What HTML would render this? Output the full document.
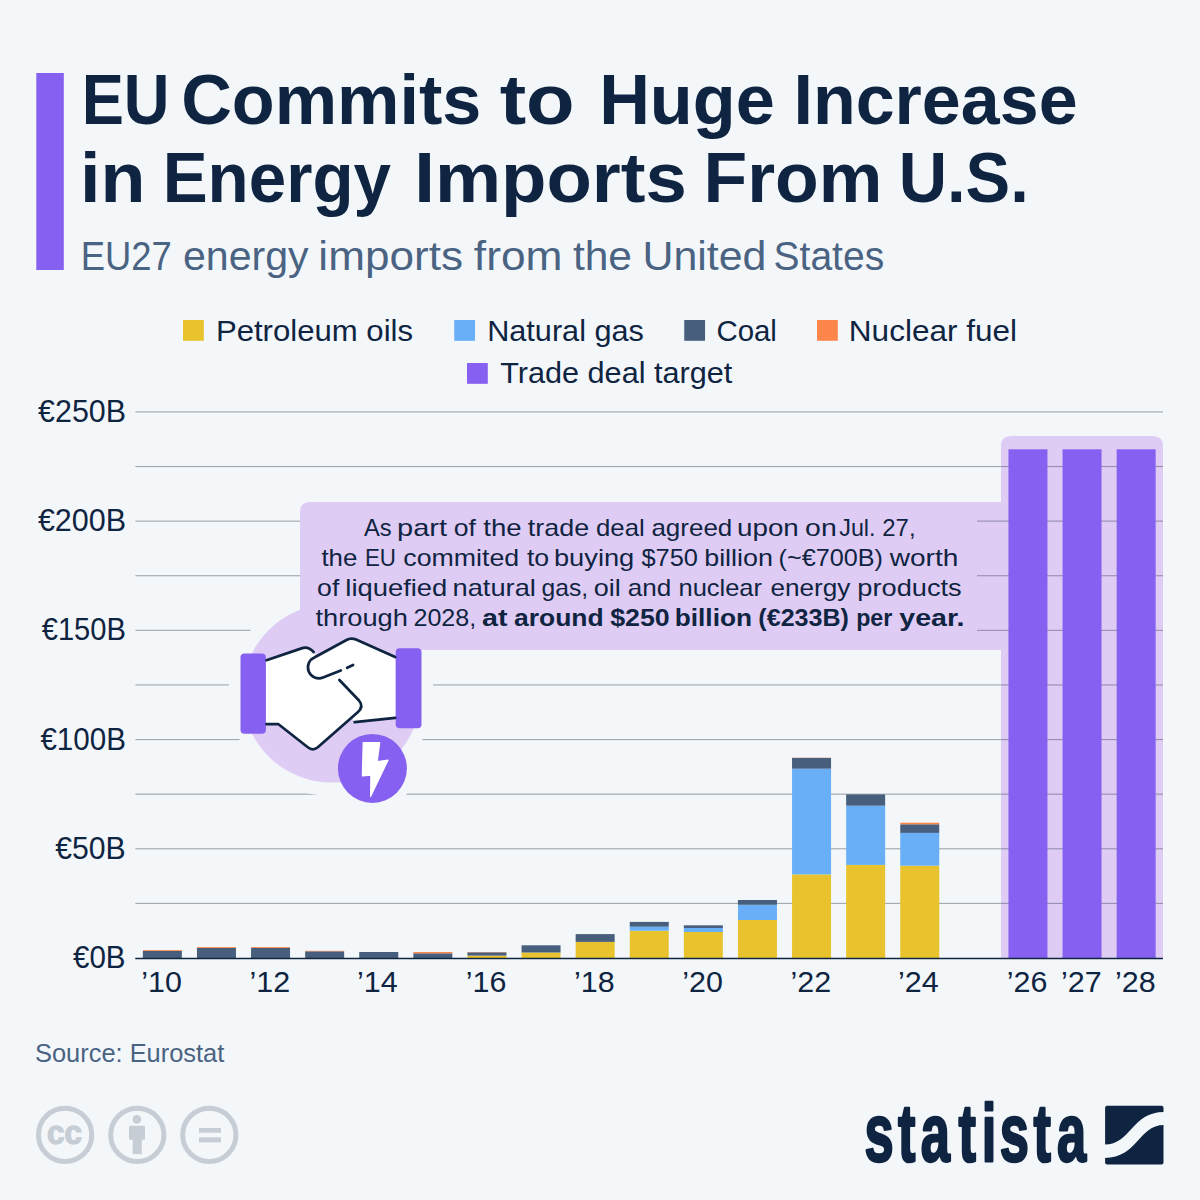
<!DOCTYPE html>
<html><head><meta charset="utf-8"><title>EU Commits to Huge Increase in Energy Imports From U.S.</title>
<style>html,body{margin:0;padding:0;background:#f3f7fa;overflow:hidden;width:1200px;height:1200px;}svg{display:block;}text{font-family:'Liberation Sans', Arial, sans-serif;}</style></head>
<body>
<svg width="1200" height="1200" viewBox="0 0 1200 1200">
<rect x="0" y="0" width="1200" height="1200" fill="#f3f7fa"/>
<rect x="36.3" y="73" width="27.5" height="197" fill="#8660f0"/>
<rect x="183" y="320" width="20.8" height="20.8" fill="#e9c32e"/>
<rect x="454.25" y="320" width="20.8" height="20.8" fill="#68aff7"/>
<rect x="684.25" y="320" width="20.8" height="20.8" fill="#475f7d"/>
<rect x="817" y="320" width="20.8" height="20.8" fill="#ff864b"/>
<rect x="467" y="363" width="20.8" height="20.8" fill="#8660f0"/>
<path d="M1001,958.5 V446 Q1001,436 1011,436 H1153 Q1163,436 1163,446 V958.5 Z" fill="#dfccf5"/>
<rect x="970" y="502" width="32" height="148" fill="#dfccf5"/>
<rect x="135.4" y="902.84" width="1027.6" height="1.1" fill="rgba(60,68,84,0.45)"/>
<rect x="135.4" y="848.23" width="1027.6" height="1.1" fill="rgba(60,68,84,0.45)"/>
<rect x="135.4" y="793.62" width="1027.6" height="1.1" fill="rgba(60,68,84,0.45)"/>
<rect x="135.4" y="739.01" width="1027.6" height="1.1" fill="rgba(60,68,84,0.45)"/>
<rect x="135.4" y="684.40" width="1027.6" height="1.1" fill="rgba(60,68,84,0.45)"/>
<rect x="135.4" y="629.79" width="1027.6" height="1.1" fill="rgba(60,68,84,0.45)"/>
<rect x="135.4" y="575.18" width="1027.6" height="1.1" fill="rgba(60,68,84,0.45)"/>
<rect x="135.4" y="520.57" width="1027.6" height="1.1" fill="rgba(60,68,84,0.45)"/>
<rect x="135.4" y="465.96" width="1027.6" height="1.1" fill="rgba(60,68,84,0.45)"/>
<rect x="135.4" y="411.35" width="1027.6" height="1.1" fill="rgba(60,68,84,0.45)"/>
<circle cx="331" cy="693.5" r="102.5" fill="#f3f7fa"/>
<circle cx="372.4" cy="768.4" r="43" fill="#f3f7fa"/>
<circle cx="331.7" cy="693.3" r="89.3" fill="#dfccf5"/>
<path d="M300,650 V512 Q300,502 310,502 H977 V650 Z" fill="#dfccf5"/>
<g id="handshake">
<path d="M265.9,660.1 L301.5,648.3 C305.5,647 310,648 313.6,652 L316.5,656.3 L346.5,640 Q351,637.5 356,639.6 L395.7,657 V717.9 L354.6,722.1 L352,718 L317.8,747.3 Q312.8,751.3 307.8,747.3 L278.5,724.2 H265.9 Z" fill="#ffffff"/>
<rect x="240.5" y="653.4" width="25.4" height="80.3" rx="4" fill="#8660f0"/>
<rect x="395.7" y="648.2" width="25.8" height="80" rx="4" fill="#8660f0"/>
<g fill="none" stroke="#0f2441" stroke-width="2.7" stroke-linecap="round" stroke-linejoin="round">
<path d="M266.5,660.2 L301.5,648.4 C305.5,647 310,648 313.6,652"/>
<path d="M266.5,724.2 H278.5 L307.8,747.3 Q312.8,751.3 317.8,747.3 L358,712 Q364,706.5 359,700.5 L339.4,680"/>
<path d="M395.2,657 L356,639.6 Q351,637.5 346.5,640 L314.8,657.2 A10,10 0 0 0 323,677.5 L340.8,670.4"/>
<path d="M347.2,667.8 L353.1,665"/>
<path d="M395.2,717.9 L354.6,722.1"/>
</g>
</g>
<circle cx="372.4" cy="768.4" r="34.5" fill="#8660f0"/>
<path d="M363.2,742.6 L379.7,742.6 L377.2,761.7 L388,760.2 L370.6,796.6 L370.9,775.2 L362.4,775.9 Z" fill="#ffffff" stroke="#ffffff" stroke-width="1.2" stroke-linejoin="round"/>

<rect x="142.85" y="951.00" width="39.0" height="7.30" fill="#475f7d"/>
<rect x="142.85" y="950.10" width="39.0" height="0.90" fill="#ff864b"/>
<rect x="196.95" y="947.90" width="39.0" height="10.40" fill="#475f7d"/>
<rect x="196.95" y="947.00" width="39.0" height="0.90" fill="#ff864b"/>
<rect x="251.05" y="947.90" width="39.0" height="10.40" fill="#475f7d"/>
<rect x="251.05" y="947.00" width="39.0" height="0.90" fill="#ff864b"/>
<rect x="305.15" y="951.30" width="39.0" height="7.00" fill="#475f7d"/>
<rect x="305.15" y="950.80" width="39.0" height="0.50" fill="#ff864b"/>
<rect x="359.25" y="952.00" width="39.0" height="6.30" fill="#475f7d"/>
<rect x="413.35" y="953.30" width="39.0" height="5.00" fill="#475f7d"/>
<rect x="413.35" y="952.00" width="39.0" height="1.30" fill="#ff864b"/>
<rect x="467.45" y="955.60" width="39.0" height="2.70" fill="#e9c32e"/>
<rect x="467.45" y="952.30" width="39.0" height="3.30" fill="#475f7d"/>
<rect x="467.45" y="952.00" width="39.0" height="0.30" fill="#ff864b"/>
<rect x="521.55" y="952.50" width="39.0" height="5.80" fill="#e9c32e"/>
<rect x="521.55" y="945.30" width="39.0" height="7.20" fill="#475f7d"/>
<rect x="575.65" y="941.90" width="39.0" height="16.40" fill="#e9c32e"/>
<rect x="575.65" y="934.10" width="39.0" height="7.80" fill="#475f7d"/>
<rect x="629.75" y="930.70" width="39.0" height="27.60" fill="#e9c32e"/>
<rect x="629.75" y="926.70" width="39.0" height="4.00" fill="#68aff7"/>
<rect x="629.75" y="921.90" width="39.0" height="4.80" fill="#475f7d"/>
<rect x="683.85" y="932.00" width="39.0" height="26.30" fill="#e9c32e"/>
<rect x="683.85" y="928.00" width="39.0" height="4.00" fill="#68aff7"/>
<rect x="683.85" y="925.30" width="39.0" height="2.70" fill="#475f7d"/>
<rect x="737.95" y="920.00" width="39.0" height="38.30" fill="#e9c32e"/>
<rect x="737.95" y="904.80" width="39.0" height="15.20" fill="#68aff7"/>
<rect x="737.95" y="900.00" width="39.0" height="4.80" fill="#475f7d"/>
<rect x="792.05" y="874.40" width="39.0" height="83.90" fill="#e9c32e"/>
<rect x="792.05" y="768.70" width="39.0" height="105.70" fill="#68aff7"/>
<rect x="792.05" y="757.90" width="39.0" height="10.80" fill="#475f7d"/>
<rect x="792.05" y="757.70" width="39.0" height="0.20" fill="#ff864b"/>
<rect x="846.15" y="864.90" width="39.0" height="93.40" fill="#e9c32e"/>
<rect x="846.15" y="805.70" width="39.0" height="59.20" fill="#68aff7"/>
<rect x="846.15" y="794.40" width="39.0" height="11.30" fill="#475f7d"/>
<rect x="900.25" y="865.70" width="39.0" height="92.60" fill="#e9c32e"/>
<rect x="900.25" y="832.90" width="39.0" height="32.80" fill="#68aff7"/>
<rect x="900.25" y="824.30" width="39.0" height="8.60" fill="#475f7d"/>
<rect x="900.25" y="822.70" width="39.0" height="1.60" fill="#ff864b"/>
<rect x="1008.45" y="449.3" width="39.0" height="509.00" fill="#8660f0"/>
<rect x="1062.55" y="449.3" width="39.0" height="509.00" fill="#8660f0"/>
<rect x="1116.65" y="449.3" width="39.0" height="509.00" fill="#8660f0"/>
<rect x="135.3" y="957.75" width="1027.7" height="1.5" fill="#0f2441"/>
<text y="123.80" font-size="69.5" font-weight="700" fill="#0f2441"><tspan x="81.70" textLength="87.84" lengthAdjust="spacingAndGlyphs">EU</tspan> <tspan x="181.17" textLength="300.20" lengthAdjust="spacingAndGlyphs">Commits</tspan> <tspan x="499.66" textLength="75.03" lengthAdjust="spacingAndGlyphs">to</tspan> <tspan x="599.15" textLength="175.63" lengthAdjust="spacingAndGlyphs">Huge</tspan> <tspan x="793.46" textLength="284.13" lengthAdjust="spacingAndGlyphs">Increase</tspan></text>
<text y="201.70" font-size="69.5" font-weight="700" fill="#0f2441"><tspan x="80.00" textLength="65.45" lengthAdjust="spacingAndGlyphs">in</tspan> <tspan x="162.65" textLength="228.35" lengthAdjust="spacingAndGlyphs">Energy</tspan> <tspan x="414.25" textLength="272.56" lengthAdjust="spacingAndGlyphs">Imports</tspan> <tspan x="703.61" textLength="178.78" lengthAdjust="spacingAndGlyphs">From</tspan> <tspan x="898.65" textLength="130.13" lengthAdjust="spacingAndGlyphs">U.S.</tspan></text>
<text y="270.00" font-size="40" font-weight="400" fill="#4b6382"><tspan x="80.77" textLength="91.11" lengthAdjust="spacingAndGlyphs">EU27</tspan> <tspan x="182.94" textLength="125.68" lengthAdjust="spacingAndGlyphs">energy</tspan> <tspan x="318.39" textLength="144.56" lengthAdjust="spacingAndGlyphs">imports</tspan> <tspan x="473.89" textLength="88.62" lengthAdjust="spacingAndGlyphs">from</tspan> <tspan x="572.94" textLength="59.07" lengthAdjust="spacingAndGlyphs">the</tspan> <tspan x="642.48" textLength="123.93" lengthAdjust="spacingAndGlyphs">United</tspan> <tspan x="773.55" textLength="110.62" lengthAdjust="spacingAndGlyphs">States</tspan></text>
<text x="215.90" y="340.75" font-size="29.6" font-weight="400" fill="#0f2441" textLength="197.14" lengthAdjust="spacingAndGlyphs">Petroleum oils</text>
<text x="487.18" y="340.75" font-size="29.6" font-weight="400" fill="#0f2441" textLength="156.71" lengthAdjust="spacingAndGlyphs">Natural gas</text>
<text x="716.41" y="340.75" font-size="29.6" font-weight="400" fill="#0f2441" textLength="60.45" lengthAdjust="spacingAndGlyphs">Coal</text>
<text x="848.87" y="340.75" font-size="29.6" font-weight="400" fill="#0f2441" textLength="168.18" lengthAdjust="spacingAndGlyphs">Nuclear fuel</text>
<text x="500.22" y="383.25" font-size="29.6" font-weight="400" fill="#0f2441" textLength="232.08" lengthAdjust="spacingAndGlyphs">Trade deal target</text>
<text y="535.60" font-size="24" font-weight="400" fill="#0f2441"><tspan x="364.10" textLength="27.60" lengthAdjust="spacingAndGlyphs">As</tspan> <tspan x="397.08" textLength="49.95" lengthAdjust="spacingAndGlyphs">part</tspan> <tspan x="453.69" textLength="22.23" lengthAdjust="spacingAndGlyphs">of</tspan> <tspan x="483.25" textLength="38.33" lengthAdjust="spacingAndGlyphs">the</tspan> <tspan x="527.80" textLength="61.29" lengthAdjust="spacingAndGlyphs">trade</tspan> <tspan x="596.03" textLength="48.75" lengthAdjust="spacingAndGlyphs">deal</tspan> <tspan x="651.42" textLength="80.86" lengthAdjust="spacingAndGlyphs">agreed</tspan> <tspan x="737.09" textLength="61.72" lengthAdjust="spacingAndGlyphs">upon</tspan> <tspan x="805.11" textLength="31.65" lengthAdjust="spacingAndGlyphs">on</tspan> <tspan x="839.28" textLength="36.26" lengthAdjust="spacingAndGlyphs">Jul.</tspan> <tspan x="882.30" textLength="33.26" lengthAdjust="spacingAndGlyphs">27,</tspan></text>
<text y="565.70" font-size="24" font-weight="400" fill="#0f2441"><tspan x="321.40" textLength="35.88" lengthAdjust="spacingAndGlyphs">the</tspan> <tspan x="364.94" textLength="31.01" lengthAdjust="spacingAndGlyphs">EU</tspan> <tspan x="403.29" textLength="115.96" lengthAdjust="spacingAndGlyphs">commited</tspan> <tspan x="526.90" textLength="22.23" lengthAdjust="spacingAndGlyphs">to</tspan> <tspan x="553.98" textLength="80.29" lengthAdjust="spacingAndGlyphs">buying</tspan> <tspan x="641.50" textLength="56.47" lengthAdjust="spacingAndGlyphs">$750</tspan> <tspan x="704.16" textLength="68.89" lengthAdjust="spacingAndGlyphs">billion</tspan> <tspan x="778.60" textLength="104.38" lengthAdjust="spacingAndGlyphs">(~€700B)</tspan> <tspan x="889.75" textLength="68.52" lengthAdjust="spacingAndGlyphs">worth</tspan></text>
<text y="595.70" font-size="24" font-weight="400" fill="#0f2441"><tspan x="317.14" textLength="22.18" lengthAdjust="spacingAndGlyphs">of</tspan> <tspan x="345.32" textLength="101.99" lengthAdjust="spacingAndGlyphs">liquefied</tspan> <tspan x="452.53" textLength="83.35" lengthAdjust="spacingAndGlyphs">natural</tspan> <tspan x="541.57" textLength="46.56" lengthAdjust="spacingAndGlyphs">gas,</tspan> <tspan x="593.67" textLength="27.07" lengthAdjust="spacingAndGlyphs">oil</tspan> <tspan x="627.66" textLength="43.47" lengthAdjust="spacingAndGlyphs">and</tspan> <tspan x="678.48" textLength="83.54" lengthAdjust="spacingAndGlyphs">nuclear</tspan> <tspan x="770.51" textLength="79.91" lengthAdjust="spacingAndGlyphs">energy</tspan> <tspan x="857.33" textLength="104.37" lengthAdjust="spacingAndGlyphs">products</tspan></text>
<text y="625.70" font-size="24" font-weight="400" fill="#0f2441"><tspan x="315.50" textLength="92.35" lengthAdjust="spacingAndGlyphs">through</tspan> <tspan x="413.45" textLength="62.80" lengthAdjust="spacingAndGlyphs">2028,</tspan> <tspan x="482.06" textLength="25.45" lengthAdjust="spacingAndGlyphs" font-weight="700">at</tspan> <tspan x="514.00" textLength="89.67" lengthAdjust="spacingAndGlyphs" font-weight="700">around</tspan> <tspan x="610.18" textLength="59.57" lengthAdjust="spacingAndGlyphs" font-weight="700">$250</tspan> <tspan x="674.71" textLength="77.35" lengthAdjust="spacingAndGlyphs" font-weight="700">billion</tspan> <tspan x="758.36" textLength="90.60" lengthAdjust="spacingAndGlyphs" font-weight="700">(€233B)</tspan> <tspan x="856.16" textLength="36.19" lengthAdjust="spacingAndGlyphs" font-weight="700">per</tspan> <tspan x="899.30" textLength="65.16" lengthAdjust="spacingAndGlyphs" font-weight="700">year.</tspan></text>
<text x="34.97" y="1061.60" font-size="25" font-weight="400" fill="#4b6382" textLength="189.36" lengthAdjust="spacingAndGlyphs">Source: Eurostat</text>
<text x="38.10" y="422.00" font-size="31" font-weight="400" fill="#0f2441" textLength="87.91" lengthAdjust="spacingAndGlyphs">€250B</text>
<text x="37.90" y="531.22" font-size="31" font-weight="400" fill="#0f2441" textLength="88.11" lengthAdjust="spacingAndGlyphs">€200B</text>
<text x="41.70" y="640.44" font-size="31" font-weight="400" fill="#0f2441" textLength="84.24" lengthAdjust="spacingAndGlyphs">€150B</text>
<text x="40.40" y="749.66" font-size="31" font-weight="400" fill="#0f2441" textLength="85.57" lengthAdjust="spacingAndGlyphs">€100B</text>
<text x="55.20" y="858.88" font-size="31" font-weight="400" fill="#0f2441" textLength="70.57" lengthAdjust="spacingAndGlyphs">€50B</text>
<text x="73.00" y="968.10" font-size="31" font-weight="400" fill="#0f2441" textLength="52.52" lengthAdjust="spacingAndGlyphs">€0B</text>
<text x="141.24" y="992.40" font-size="28.8" font-weight="400" fill="#0f2441" textLength="40.63" lengthAdjust="spacingAndGlyphs">’10</text>
<text x="249.44" y="992.40" font-size="28.8" font-weight="400" fill="#0f2441" textLength="40.63" lengthAdjust="spacingAndGlyphs">’12</text>
<text x="357.11" y="992.40" font-size="28.8" font-weight="400" fill="#0f2441" textLength="40.63" lengthAdjust="spacingAndGlyphs">’14</text>
<text x="465.84" y="992.40" font-size="28.8" font-weight="400" fill="#0f2441" textLength="40.63" lengthAdjust="spacingAndGlyphs">’16</text>
<text x="574.04" y="992.40" font-size="28.8" font-weight="400" fill="#0f2441" textLength="40.63" lengthAdjust="spacingAndGlyphs">’18</text>
<text x="682.24" y="992.40" font-size="28.8" font-weight="400" fill="#0f2441" textLength="40.63" lengthAdjust="spacingAndGlyphs">’20</text>
<text x="790.44" y="992.40" font-size="28.8" font-weight="400" fill="#0f2441" textLength="40.63" lengthAdjust="spacingAndGlyphs">’22</text>
<text x="898.11" y="992.40" font-size="28.8" font-weight="400" fill="#0f2441" textLength="40.63" lengthAdjust="spacingAndGlyphs">’24</text>
<text x="1006.84" y="992.40" font-size="28.8" font-weight="400" fill="#0f2441" textLength="40.63" lengthAdjust="spacingAndGlyphs">’26</text>
<text x="1060.94" y="992.40" font-size="28.8" font-weight="400" fill="#0f2441" textLength="40.63" lengthAdjust="spacingAndGlyphs">’27</text>
<text x="1115.04" y="992.40" font-size="28.8" font-weight="400" fill="#0f2441" textLength="40.63" lengthAdjust="spacingAndGlyphs">’28</text>
<text transform="scale(0.6475,1)" x="1334.98 1386.76 1422.12 1480.34 1516.24 1543.85 1596.09 1632.31" y="1161.10" font-size="81" font-weight="700" fill="#0f2441" stroke="#0f2441" stroke-width="2.6" stroke-linejoin="round">statista</text>
<g fill="none" stroke="#c6cdd4" stroke-width="5">
<circle cx="65.1" cy="1134.9" r="26.6"/>
<circle cx="137.3" cy="1134.9" r="26.6"/>
<circle cx="209.3" cy="1134.9" r="26.6"/>
</g>
<text x="47" y="1144" font-size="33" font-weight="700" fill="#c6cdd4" stroke="#c6cdd4" stroke-width="1.3" textLength="35" lengthAdjust="spacingAndGlyphs">cc</text>
<g fill="#c6cdd4">
<circle cx="136.9" cy="1119.4" r="4.3"/>
<rect x="129" y="1125.7" width="16" height="14" rx="1"/>
<rect x="132.7" y="1138" width="9.1" height="16.1"/>
<rect x="199" y="1128" width="22" height="4.7"/>
<rect x="199" y="1137.3" width="22" height="5"/>
</g>
<g transform="translate(1105.1,1105.8)">
<rect x="0" y="0" width="58.4" height="58.7" rx="2" fill="#0f2441"/>
<path d="M-0.5,38.8 C26,38.8 26.4,6.2 59,6.2 V19.3 C32.9,19.3 33,52.2 -0.5,52.2 Z" fill="#f3f7fa"/>
</g>

</svg>
</body></html>
